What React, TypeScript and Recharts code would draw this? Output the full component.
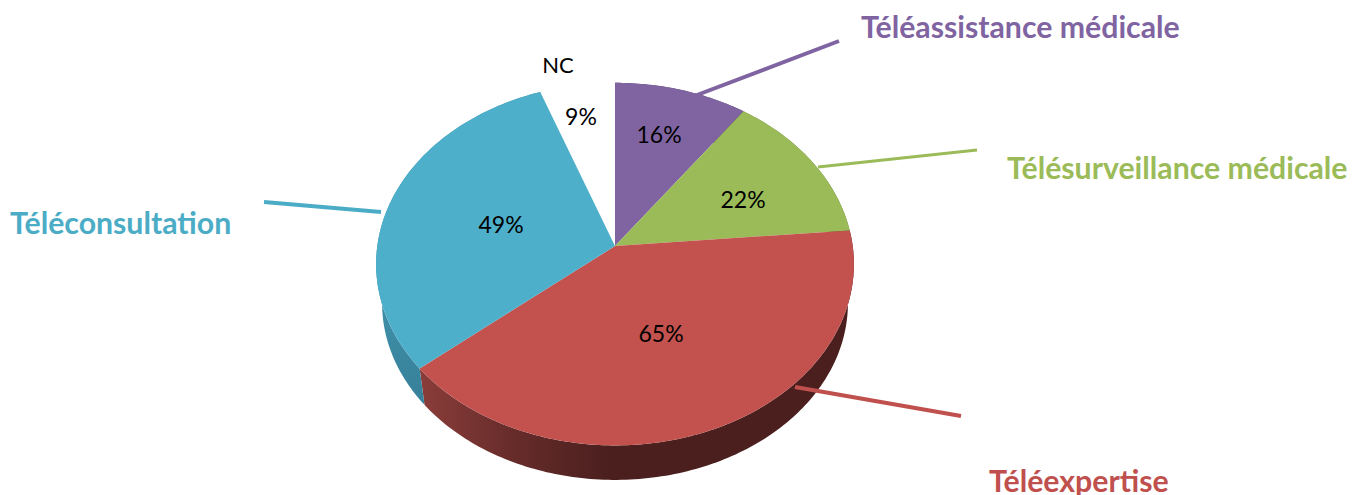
import { Pie, PieChart } from "recharts";

const categories = ["Téléassistance médicale", "Télésurveillance médicale", "Téléexpertise", "Téléconsultation", "NC"];
const percents = [16, 22, 65, 49, 9];

const faceColors = ["#8064a2", "#9bbb59", "#c3524f", "#4dafca", "none"];
const wallColors = ["#4b3a60", "#5c6f33", "url(#redWall)", "url(#blueWall)", "none"];
const textColors = ["#8064a2", "#9bbb59", "#c0504d", "#4bacc6", "#000000"];

const data = categories.map((name, i) => ({ name, value: percents[i] }));

// where Excel put the percentages and the callouts, in page pixels
const percentSpots = [[659, 134], [743, 199], [661, 333], [501, 224], [581, 116]];
const titleSpots = [[861, 38], [1007, 179], [989, 492], [10, 234]];
const leaders = [
  [697, 95, 839, 41, 4],
  [818, 167, 977, 150, 3],
  [795, 387, 961, 416, 4],
  [264, 202, 381, 212, 4],
];

const FONT = "Lato, Carlito, sans-serif";
const PERSPECTIVE = -0.1;
const SQUASH = 0.755;
const DEPTH = 39.5;
const BOTTOM_SCALE = 0.975;

// perspective view of the flat pie: angle is the recharts one (90 = top)
function project(cx: number, cy: number, r: number, angle: number, scale = 1, drop = 0) {
  const rad = (angle * Math.PI) / 180;
  const x = Math.cos(rad);
  const y = -Math.sin(rad);
  const w = 1 + PERSPECTIVE * y;
  return [cx + (r * scale * x) / w, cy + drop + (r * scale * SQUASH * y) / w];
}

function arcPoints(p: any, scale = 1, drop = 0) {
  const pts = [];
  const steps = Math.max(2, Math.ceil(Math.abs(p.endAngle - p.startAngle)));
  for (let i = 0; i <= steps; i++) {
    const a = p.startAngle + ((p.endAngle - p.startAngle) * i) / steps;
    pts.push(project(p.cx, p.cy, p.outerRadius, a, scale, drop));
  }
  return pts;
}

const toPath = (pts: number[][]) => "M" + pts.map((q) => q[0].toFixed(2) + "," + q[1].toFixed(2)).join("L") + "Z";

function FaceShape(props: any) {
  const pts = [[props.cx, props.cy], ...arcPoints(props)];
  return <path d={toPath(pts)} fill={props.fill} stroke="none" />;
}

function WallShape(props: any) {
  const top = arcPoints(props);
  const bottom = arcPoints(props, BOTTOM_SCALE, DEPTH).reverse();
  return <path d={toPath([...top, ...bottom])} fill={props.fill} stroke="none" />;
}

function SliceLabel(props: any) {
  const i = props.index;
  const [px, py] = percentSpots[i];
  const title = titleSpots[i];
  const line = leaders[i];
  return (
    <g>
      {line && <line x1={line[0]} y1={line[1]} x2={line[2]} y2={line[3]} stroke={textColors[i]} strokeWidth={line[4]} />}
      <text x={px} y={py} textAnchor="middle" dominantBaseline="central" fontFamily={FONT} fontSize={23} fill="#000">
        {percents[i]}%
      </text>
      {title ? (
        <text x={title[0]} y={title[1]} fontFamily={FONT} fontSize={30.25} fontWeight={700} fill={textColors[i]}>
          {categories[i]}
        </text>
      ) : (
        <text x={558} y={64} textAnchor="middle" dominantBaseline="central" fontFamily={FONT} fontSize={22} fill="#000">
          {categories[i]}
        </text>
      )}
    </g>
  );
}

export default function App() {
  const pieProps = {
    dataKey: "value",
    nameKey: "name",
    cx: 615,
    cy: 246,
    innerRadius: 0,
    outerRadius: 237.7,
    startAngle: 90,
    endAngle: -270,
    stroke: "none",
    isAnimationActive: false,
  };
  const walls = data.map((d, i) => ({ ...d, fill: wallColors[i] }));
  const faces = data.map((d, i) => ({ ...d, fill: faceColors[i] }));

  return (
    <div style={{ position: "absolute", left: 0, top: 0, width: 1365, height: 495, background: "#fff" }}>
      <PieChart width={1365} height={495} margin={{ top: 0, right: 0, bottom: 0, left: 0 }}>
        <defs>
          <linearGradient id="redWall" gradientUnits="userSpaceOnUse" x1="420" y1="0" x2="610" y2="0">
            <stop offset="0" stopColor="#8a3d3a" />
            <stop offset="0.5" stopColor="#662c2a" />
            <stop offset="1" stopColor="#4a1f1e" />
          </linearGradient>
          <linearGradient id="blueWall" gradientUnits="userSpaceOnUse" x1="380" y1="300" x2="425" y2="400">
            <stop offset="0" stopColor="#3f8fa8" />
            <stop offset="1" stopColor="#37809a" />
          </linearGradient>
        </defs>
        <Pie {...pieProps} data={walls} shape={WallShape} />
        <Pie {...pieProps} data={faces} shape={FaceShape} label={SliceLabel} labelLine={false} />
      </PieChart>
    </div>
  );
}
